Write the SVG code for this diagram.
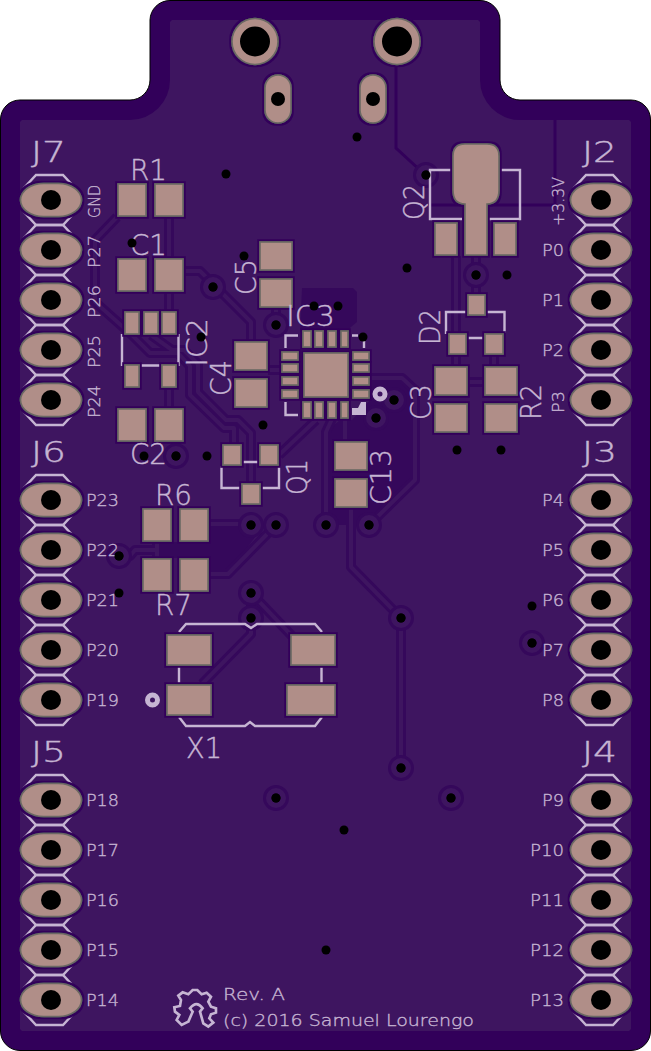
<svg xmlns="http://www.w3.org/2000/svg" width="651" height="1051" viewBox="0 0 651 1051">
<style>
.s{fill:none;stroke:#c6b5d3;stroke-width:2.4}
.f{fill:#c6b5d3}
.p{fill:#b08e88;stroke:#6b6963;stroke-width:1.600;filter:url(#h)}
.d{fill:#000}
.g{fill:none;stroke:#35085b;stroke-width:10;stroke-linejoin:round}
.c{fill:none;stroke:#3e1560;stroke-width:4;stroke-linejoin:round}
.w{fill:none;stroke:#32005a;stroke-width:3}
.r{fill:#3e1560;stroke:#35085b;stroke-width:3}
text{font-family:"DejaVu Sans","Liberation Mono",monospace;font-weight:200;fill:#c6b5d3}
.t{font-size:16.500px;stroke:#c6b5d3;stroke-width:.35}
.b{font-size:27.500px;stroke:#c6b5d3;stroke-width:.4}
</style>
<defs>
<filter id="h" x="-30%" y="-30%" width="160%" height="160%">
<feMorphology in="SourceAlpha" operator="dilate" radius="1.500" result="m"/>
<feFlood flood-color="#32005a"/>
<feComposite in2="m" operator="in"/>
<feMerge><feMergeNode/><feMergeNode in="SourceGraphic"/></feMerge>
</filter>
<polygon id="hx" class="s" points="-15,-25 12,-25 24,-12 24,12 12,25 -15,25 -27,12 -27,-12"/>
<g id="hp"><rect class="p" x="-30.500" y="-16.500" width="61" height="33" rx="23" ry="16.500"/><circle class="d" r="10"/></g>
<g id="via"><circle class="r" r="11.500"/><circle class="d" r="4.500"/></g>
<circle id="dr" class="d" r="4.500"/>
</defs>
<path id="board" d="M170,0.500H480A20,20 0 0 1 500,20V80A20,20 0 0 0 520,100H631A19.500,19.500 0 0 1 650.500,120V1031A19.500,19.500 0 0 1 631,1050.500H20A19.500,19.500 0 0 1 0.500,1031V120A19.500,19.500 0 0 1 20,100H130A20,20 0 0 0 150,80V20A20,20 0 0 1 170,0.500Z" fill="#32005a" stroke="#000" stroke-width="1"/>
<path id="pour" d="M172,20H478L480,22V80A40,40 0 0 0 520,120H629L631,122V1029L629,1031H22L20,1029V122L22,120H130A40,40 0 0 0 170,80V22Z" fill="#3e1560"/>
<g id="zones" fill="#35085b">
<path d="M302,288H353L357,292V322L345,332H300Z"/>
<path d="M326,432L340,420H352L370,400V375H403L414,388V482L369,525H326Z"/>
<path d="M209,528H262L228,573H209V558H160V542H209Z"/>
</g>
<g id="connectors">
<path class="w" d="M396,60V148L422,172"/><path class="w" d="M555,120V205H430"/>
<path id="routes" class="g" d="M351,505V567L401,618V768M369,525L415,480V390L402,378H370M326,525V432L332,419M345,419V442M279,455L316,420M117,217L95,240V302L132,335L150,353H178L190,366V395L224,428H234V445M151,335L172,350H184L198,364V392L226,420H238L251,433V483M169,217V311M169,388V408M184,271H200L251,322V341M276,308V325M268,370H285M476,256V294M456,256V366M494,355V366M468,382H484M209,524H251M209,574H228L276,525M157,542V558M119,556H130L135,550H157M251,593V618M251,593L292,636M251,618V634L202,684M176,442V456"/>
<path id="routes-core" class="c" d="M351,505V567L401,618V768M369,525L415,480V390L402,378H370M326,525V432L332,419M345,419V442M279,455L316,420M117,217L95,240V302L132,335L150,353H178L190,366V395L224,428H234V445M151,335L172,350H184L198,364V392L226,420H238L251,433V483M169,217V311M169,388V408M184,271H200L251,322V341M276,308V325M268,370H285M476,256V294M456,256V366M494,355V366M468,382H484M209,524H251M209,574H228L276,525M157,542V558M119,556H130L135,550H157M251,593L292,636M251,618V634L202,684M176,442V456"/>
</g>
<g id="vias">
<use href="#via" x="213" y="287"/><use href="#via" x="276" y="325"/><use href="#via" x="426" y="175"/><use href="#via" x="476" y="275"/><use href="#via" x="394" y="400"/><use href="#via" x="376" y="418"/><use href="#via" x="176" y="456"/><use href="#via" x="251" y="525"/><use href="#via" x="276" y="525"/><use href="#via" x="326" y="525"/><use href="#via" x="369" y="525"/><use href="#via" x="119" y="556"/><use href="#via" x="251" y="593"/><use href="#via" x="251" y="618"/><use href="#via" x="401" y="618"/><use href="#via" x="401" y="768"/><use href="#via" x="276" y="798"/><use href="#via" x="451" y="798"/><use href="#via" x="532" y="643"/>
</g>
<g id="USB">
<g class="p"><circle cx="255" cy="41.500" r="23"/><circle cx="397" cy="41.500" r="23"/><rect x="265" y="75" width="26" height="48" rx="13"/><rect x="360" y="75" width="26" height="48" rx="13"/></g>
<circle class="d" cx="255" cy="41.500" r="15"/><circle class="d" cx="397" cy="41.500" r="15"/><circle class="d" cx="278" cy="99" r="7"/><circle class="d" cx="373" cy="99" r="7"/>
</g>
<g id="J7">
<use href="#hx" x="51" y="200"/><use href="#hx" x="51" y="250"/><use href="#hx" x="51" y="300"/><use href="#hx" x="51" y="350"/><use href="#hx" x="51" y="400"/>
<use href="#hp" x="51" y="200"/><use href="#hp" x="51" y="250"/><use href="#hp" x="51" y="300"/><use href="#hp" x="51" y="350"/><use href="#hp" x="51" y="400"/>
<text class="b" x="31" y="162" textLength="35" lengthAdjust="spacingAndGlyphs">J7</text>
<text class="t" transform="translate(100 218) rotate(-90)" textLength="33" lengthAdjust="spacingAndGlyphs">GND</text>
<text class="t" transform="translate(100 268) rotate(-90)" textLength="33" lengthAdjust="spacingAndGlyphs">P27</text>
<text class="t" transform="translate(100 318) rotate(-90)" textLength="33" lengthAdjust="spacingAndGlyphs">P26</text>
<text class="t" transform="translate(100 368) rotate(-90)" textLength="33" lengthAdjust="spacingAndGlyphs">P25</text>
<text class="t" transform="translate(100 418) rotate(-90)" textLength="33" lengthAdjust="spacingAndGlyphs">P24</text>
</g>
<g id="J6">
<use href="#hx" x="51" y="500"/><use href="#hx" x="51" y="550"/><use href="#hx" x="51" y="600"/><use href="#hx" x="51" y="650"/><use href="#hx" x="51" y="700"/>
<use href="#hp" x="51" y="500"/><use href="#hp" x="51" y="550"/><use href="#hp" x="51" y="600"/><use href="#hp" x="51" y="650"/><use href="#hp" x="51" y="700"/>
<text class="b" x="31" y="462" textLength="35" lengthAdjust="spacingAndGlyphs">J6</text>
<text class="t" x="86" y="506" textLength="33" lengthAdjust="spacingAndGlyphs">P23</text>
<text class="t" x="86" y="556" textLength="33" lengthAdjust="spacingAndGlyphs">P22</text>
<text class="t" x="86" y="606" textLength="33" lengthAdjust="spacingAndGlyphs">P21</text>
<text class="t" x="86" y="656" textLength="33" lengthAdjust="spacingAndGlyphs">P20</text>
<text class="t" x="86" y="706" textLength="33" lengthAdjust="spacingAndGlyphs">P19</text>
</g>
<g id="J5">
<use href="#hx" x="51" y="800"/><use href="#hx" x="51" y="850"/><use href="#hx" x="51" y="900"/><use href="#hx" x="51" y="950"/><use href="#hx" x="51" y="1000"/>
<use href="#hp" x="51" y="800"/><use href="#hp" x="51" y="850"/><use href="#hp" x="51" y="900"/><use href="#hp" x="51" y="950"/><use href="#hp" x="51" y="1000"/>
<text class="b" x="31" y="762" textLength="35" lengthAdjust="spacingAndGlyphs">J5</text>
<text class="t" x="86" y="806" textLength="33" lengthAdjust="spacingAndGlyphs">P18</text>
<text class="t" x="86" y="856" textLength="33" lengthAdjust="spacingAndGlyphs">P17</text>
<text class="t" x="86" y="906" textLength="33" lengthAdjust="spacingAndGlyphs">P16</text>
<text class="t" x="86" y="956" textLength="33" lengthAdjust="spacingAndGlyphs">P15</text>
<text class="t" x="86" y="1006" textLength="33" lengthAdjust="spacingAndGlyphs">P14</text>
</g>
<g id="J2">
<use href="#hx" x="601" y="200"/><use href="#hx" x="601" y="250"/><use href="#hx" x="601" y="300"/><use href="#hx" x="601" y="350"/><use href="#hx" x="601" y="400"/>
<use href="#hp" x="601" y="200"/><use href="#hp" x="601" y="250"/><use href="#hp" x="601" y="300"/><use href="#hp" x="601" y="350"/><use href="#hp" x="601" y="400"/>
<text class="b" x="582" y="162" textLength="35" lengthAdjust="spacingAndGlyphs">J2</text>
<text class="t" transform="translate(564 226) rotate(-90)" textLength="49" lengthAdjust="spacingAndGlyphs">+3.3V</text>
<text class="t" x="542" y="256" textLength="22" lengthAdjust="spacingAndGlyphs">P0</text>
<text class="t" x="542" y="306" textLength="22" lengthAdjust="spacingAndGlyphs">P1</text>
<text class="t" x="542" y="356" textLength="22" lengthAdjust="spacingAndGlyphs">P2</text>
<text class="t" transform="translate(564 413) rotate(-90)" textLength="22" lengthAdjust="spacingAndGlyphs">P3</text>
</g>
<g id="J3">
<use href="#hx" x="601" y="500"/><use href="#hx" x="601" y="550"/><use href="#hx" x="601" y="600"/><use href="#hx" x="601" y="650"/><use href="#hx" x="601" y="700"/>
<use href="#hp" x="601" y="500"/><use href="#hp" x="601" y="550"/><use href="#hp" x="601" y="600"/><use href="#hp" x="601" y="650"/><use href="#hp" x="601" y="700"/>
<text class="b" x="582" y="462" textLength="35" lengthAdjust="spacingAndGlyphs">J3</text>
<text class="t" x="542" y="506" textLength="22" lengthAdjust="spacingAndGlyphs">P4</text>
<text class="t" x="542" y="556" textLength="22" lengthAdjust="spacingAndGlyphs">P5</text>
<text class="t" x="542" y="606" textLength="22" lengthAdjust="spacingAndGlyphs">P6</text>
<text class="t" x="542" y="656" textLength="22" lengthAdjust="spacingAndGlyphs">P7</text>
<text class="t" x="542" y="706" textLength="22" lengthAdjust="spacingAndGlyphs">P8</text>
</g>
<g id="J4">
<use href="#hx" x="601" y="800"/><use href="#hx" x="601" y="850"/><use href="#hx" x="601" y="900"/><use href="#hx" x="601" y="950"/><use href="#hx" x="601" y="1000"/>
<use href="#hp" x="601" y="800"/><use href="#hp" x="601" y="850"/><use href="#hp" x="601" y="900"/><use href="#hp" x="601" y="950"/><use href="#hp" x="601" y="1000"/>
<text class="b" x="582" y="762" textLength="35" lengthAdjust="spacingAndGlyphs">J4</text>
<text class="t" x="542" y="806" textLength="22" lengthAdjust="spacingAndGlyphs">P9</text>
<text class="t" x="530" y="856" textLength="34" lengthAdjust="spacingAndGlyphs">P10</text>
<text class="t" x="530" y="906" textLength="34" lengthAdjust="spacingAndGlyphs">P11</text>
<text class="t" x="530" y="956" textLength="34" lengthAdjust="spacingAndGlyphs">P12</text>
<text class="t" x="530" y="1006" textLength="34" lengthAdjust="spacingAndGlyphs">P13</text>
</g>
<g id="R1"><rect class="p" x="118" y="184" width="28" height="32"/><rect class="p" x="155" y="184" width="28" height="32"/><text class="b" x="130" y="180" textLength="37" lengthAdjust="spacingAndGlyphs">R1</text></g>
<g id="C1"><rect class="p" x="118" y="259" width="28" height="32"/><rect class="p" x="155" y="259" width="28" height="32"/><text class="b" x="130" y="255" textLength="37" lengthAdjust="spacingAndGlyphs">C1</text></g>
<g id="C2"><rect class="p" x="118" y="409" width="28" height="32"/><rect class="p" x="155" y="409" width="28" height="32"/><text class="b" x="130" y="464" textLength="37" lengthAdjust="spacingAndGlyphs">C2</text></g>
<g id="IC2">
<path class="s" d="M122,334V366M178.500,334V366M140,365.500H161"/>
<rect class="p" x="125" y="312" width="14" height="22"/><rect class="p" x="144" y="312" width="14" height="22"/><rect class="p" x="162" y="312" width="14" height="22"/><rect class="p" x="125" y="365" width="14" height="22"/><rect class="p" x="162" y="365" width="14" height="22"/>
<text class="b" transform="translate(207 367) rotate(-90)" textLength="49" lengthAdjust="spacingAndGlyphs">IC2</text>
</g>
<g id="C5"><rect class="p" x="260" y="242" width="32" height="28"/><rect class="p" x="260" y="279" width="32" height="28"/><text class="b" transform="translate(256 295) rotate(-90)" textLength="36" lengthAdjust="spacingAndGlyphs">C5</text></g>
<g id="C4"><rect class="p" x="235" y="342" width="32" height="28"/><rect class="p" x="235" y="379" width="32" height="28"/><text class="b" transform="translate(231 396) rotate(-90)" textLength="36" lengthAdjust="spacingAndGlyphs">C4</text></g>
<g id="IC3">
<path class="s" d="M298,335.500H285.500V348M352,335.500H358M364,338V348M285.500,402V415H298"/>
<polygon class="f" points="361,402 366,402 366,415 352,415 352,408 358,408"/>
<circle cx="380" cy="394" r="5" fill="#3e1560" stroke="#c6b5d3" stroke-width="5"/>
<rect class="p" x="304" y="353" width="44" height="44"/>
<rect class="p" x="303" y="331" width="8" height="16"/><rect class="p" x="315" y="331" width="8" height="16"/><rect class="p" x="328" y="331" width="8" height="16"/><rect class="p" x="341" y="331" width="7" height="16"/>
<rect class="p" x="303" y="402" width="8" height="16"/><rect class="p" x="315" y="402" width="8" height="16"/><rect class="p" x="328" y="402" width="8" height="16"/><rect class="p" x="341" y="402" width="7" height="16"/>
<rect class="p" x="282" y="352" width="16" height="8"/><rect class="p" x="282" y="364" width="16" height="8"/><rect class="p" x="282" y="377" width="16" height="8"/><rect class="p" x="282" y="390" width="16" height="8"/>
<rect class="p" x="353" y="352" width="16" height="8"/><rect class="p" x="353" y="364" width="16" height="8"/><rect class="p" x="353" y="377" width="16" height="8"/><rect class="p" x="353" y="390" width="16" height="8"/>
<text class="b" x="286" y="326" textLength="49" lengthAdjust="spacingAndGlyphs">IC3</text>
</g>
<g id="Q1">
<path class="s" d="M242,462H259M221.500,466V488H241M279,466V488H261"/>
<rect class="p" x="223" y="445" width="18" height="20"/><rect class="p" x="260" y="445" width="18" height="20"/><rect class="p" x="242" y="484" width="18" height="20"/>
<text class="b" transform="translate(307 495) rotate(-90)" textLength="36" lengthAdjust="spacingAndGlyphs">Q1</text>
</g>
<g id="C13"><rect class="p" x="335" y="442" width="32" height="28"/><rect class="p" x="335" y="479" width="32" height="28"/><text class="b" transform="translate(391 505) rotate(-90)" textLength="56" lengthAdjust="spacingAndGlyphs">C13</text></g>
<g id="Q2">
<path class="s" d="M452,170H430V219H462M500,170H520V219H488"/>
<path class="p" d="M465,144H487Q499,144 499,156V190Q499,204 487,204V255H465V204Q453,204 453,190V156Q453,144 465,144Z"/>
<rect class="p" x="435" y="223" width="22" height="32"/><rect class="p" x="494" y="223" width="22" height="32"/>
<text class="b" transform="translate(424 220) rotate(-90)" textLength="36" lengthAdjust="spacingAndGlyphs">Q2</text>
</g>
<g id="D2">
<path class="s" d="M467,312H446V334M486,312H504.500V333M467,338H484"/>
<rect class="p" x="468" y="295" width="17" height="20"/><rect class="p" x="449" y="334" width="17" height="20"/><rect class="p" x="485" y="334" width="18" height="20"/>
<text class="b" transform="translate(440 345) rotate(-90)" textLength="36" lengthAdjust="spacingAndGlyphs">D2</text>
</g>
<g id="C3"><rect class="p" x="435" y="367" width="32" height="28"/><rect class="p" x="435" y="404" width="32" height="28"/><text class="b" transform="translate(431 420) rotate(-90)" textLength="36" lengthAdjust="spacingAndGlyphs">C3</text></g>
<g id="R2"><rect class="p" x="485" y="367" width="32" height="28"/><rect class="p" x="485" y="404" width="32" height="28"/><text class="b" transform="translate(541 420) rotate(-90)" textLength="36" lengthAdjust="spacingAndGlyphs">R2</text></g>
<g id="R6"><rect class="p" x="143" y="509" width="28" height="32"/><rect class="p" x="180" y="509" width="28" height="32"/><text class="b" x="155" y="505" textLength="37" lengthAdjust="spacingAndGlyphs">R6</text></g>
<g id="R7"><rect class="p" x="143" y="559" width="28" height="32"/><rect class="p" x="180" y="559" width="28" height="32"/><text class="b" x="155" y="615" textLength="37" lengthAdjust="spacingAndGlyphs">R7</text></g>
<g id="X1">
<path class="s" d="M179,632L186,624H245L251,628L257,624H315L322,632M179,666V684M321.500,666V684M179,717L186,726H245L250,722L255,726H315L322,717"/>
<rect class="p" x="167" y="635" width="44" height="30"/><rect class="p" x="291" y="635" width="44" height="30"/><rect class="p" x="167" y="685" width="44" height="30"/><rect class="p" x="287" y="685" width="48" height="30"/>
<circle cx="152.500" cy="700" r="5" fill="#3e1560" stroke="#c6b5d3" stroke-width="5"/>
<text class="b" x="186" y="758" textLength="36" lengthAdjust="spacingAndGlyphs">X1</text>
</g>
<g id="logo" transform="translate(0 930) scale(.3333)"><path fill="none" stroke="#c6b5d3" stroke-width="8" d="M565,275L545,285L530,270L538,255L525,245L523,232L540,228L543,210L535,197L548,187L565,193L578,180L592,180L605,193L620,188L633,200L625,215L633,230L648,235L648,248L633,253L628,265L640,278L625,290L610,280L600,245L608,235Q590,210 570,235L578,245Z"/></g>
<g id="notes">
<text class="t" x="223" y="1000" textLength="62" lengthAdjust="spacingAndGlyphs">Rev. A</text>
<text class="t" x="223" y="1026" textLength="251" lengthAdjust="spacingAndGlyphs">(c) 2016 Samuel Lourengo</text>
</g>
<g id="drills">
<use href="#dr" x="357" y="137"/><use href="#dr" x="226" y="174"/><use href="#dr" x="132" y="243"/><use href="#dr" x="244" y="256"/><use href="#dr" x="201" y="337"/><use href="#dr" x="314" y="306"/><use href="#dr" x="338" y="306"/><use href="#dr" x="363" y="337"/><use href="#dr" x="407" y="268"/><use href="#dr" x="507" y="275"/><use href="#dr" x="263" y="425"/><use href="#dr" x="207" y="456"/><use href="#dr" x="144" y="456"/><use href="#dr" x="457" y="450"/><use href="#dr" x="501" y="450"/><use href="#dr" x="119" y="593"/><use href="#dr" x="344" y="830"/><use href="#dr" x="326" y="950"/><use href="#dr" x="532" y="606"/>
<use href="#dr" x="213" y="287"/><use href="#dr" x="276" y="325"/><use href="#dr" x="426" y="175"/><use href="#dr" x="476" y="275"/><use href="#dr" x="394" y="400"/><use href="#dr" x="376" y="418"/><use href="#dr" x="176" y="456"/><use href="#dr" x="251" y="525"/><use href="#dr" x="276" y="525"/><use href="#dr" x="326" y="525"/><use href="#dr" x="369" y="525"/><use href="#dr" x="119" y="556"/><use href="#dr" x="251" y="593"/><use href="#dr" x="251" y="618"/><use href="#dr" x="401" y="618"/><use href="#dr" x="401" y="768"/><use href="#dr" x="276" y="798"/><use href="#dr" x="451" y="798"/><use href="#dr" x="532" y="643"/>
</g>
</svg>
